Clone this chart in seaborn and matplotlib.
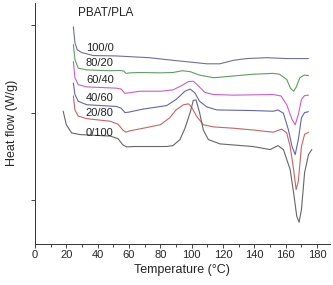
import numpy as np
import pandas as pd
import matplotlib
matplotlib.use("Agg")
import matplotlib.pyplot as plt
from matplotlib.ticker import MultipleLocator
import seaborn as sns

# DSC curves (temperature in deg C, heat flow in arbitrary stacked units)
t_100_0 = [24.5, 25.5, 27, 29.8, 37, 52, 73, 88, 99, 109.6, 118, 126.6, 135, 148, 160.6, 174.5]
h_100_0 = [2.985, 2.80, 2.72, 2.69, 2.655, 2.65, 2.63, 2.60, 2.58, 2.56, 2.56, 2.60, 2.62, 2.63, 2.62, 2.62]

t_80_20 = [24.5, 25.5, 27.6, 33, 48, 54, 56.8, 58, 60.6, 67, 80, 88, 94, 99, 105, 114, 126.6, 139, 152, 156,
           160.6, 163, 165, 166.6, 169, 171.7, 174.5]
h_80_20 = [2.78, 2.61, 2.51, 2.49, 2.48, 2.484, 2.476, 2.45, 2.456, 2.46, 2.456, 2.46, 2.48, 2.47, 2.43, 2.40,
           2.42, 2.44, 2.45, 2.44, 2.38, 2.28, 2.245, 2.29, 2.40, 2.43, 2.425]

t_60_40 = [24.5, 25.5, 27.6, 33, 52, 55, 57.4, 59.6, 67, 80, 88, 93.6, 98, 101, 104, 108.5, 114, 126.6, 152, 157,
           160.6, 164, 166, 168, 170, 172, 174.5]
h_60_40 = [2.586, 2.40, 2.32, 2.295, 2.28, 2.27, 2.22, 2.226, 2.245, 2.245, 2.26, 2.31, 2.356, 2.36, 2.31, 2.23,
           2.207, 2.20, 2.207, 2.19, 2.09, 1.92, 1.86, 1.977, 2.15, 2.195, 2.20]

t_40_60 = [24.5, 25.5, 27.6, 33, 52, 55, 57.4, 59.6, 69, 84, 90, 95.7, 99, 102, 105, 109.6, 116, 139, 152, 155,
           158.5, 161.7, 164, 166, 168, 170, 172, 174.5]
h_40_60 = [2.34, 2.207, 2.13, 2.09, 2.07, 2.05, 2.00, 2.004, 2.04, 2.08, 2.15, 2.245, 2.27, 2.226, 2.13, 2.065,
           2.03, 2.023, 2.015, 2.03, 1.992, 1.80, 1.61, 1.517, 1.69, 1.94, 2.00, 2.01]

t_20_80 = [24.5, 25.5, 27.6, 33, 48, 53, 56, 58, 60.6, 69, 80, 86, 90, 94.7, 98, 100, 103, 107.4, 114, 126.6, 139,
           152, 157.4, 160.6, 162.8, 165, 166.6, 168, 170, 172, 174.5]
h_20_80 = [2.19, 2.03, 1.96, 1.93, 1.90, 1.866, 1.80, 1.774, 1.79, 1.82, 1.86, 1.94, 2.03, 2.09, 2.10, 2.06, 1.96,
           1.86, 1.835, 1.82, 1.80, 1.774, 1.81, 1.766, 1.61, 1.345, 1.115, 1.21, 1.61, 1.75, 1.774]

t_0_100 = [18, 20, 23.4, 28.7, 48, 53, 56, 58.5, 62.8, 84, 88, 92.5, 95.7, 99, 101, 102.8, 105, 107.4, 110.6, 118,
           139, 150, 155, 158.5, 162.8, 165, 167, 168.5, 170, 172, 174.5, 176.6]
h_0_100 = [2.015, 1.86, 1.766, 1.747, 1.73, 1.70, 1.63, 1.605, 1.61, 1.61, 1.62, 1.69, 1.82, 2.00, 2.14, 2.145,
           2.00, 1.80, 1.69, 1.64, 1.61, 1.575, 1.62, 1.575, 1.345, 1.077, 0.81, 0.74, 0.885, 1.31, 1.517, 1.575]

blends = ["100/0", "80/20", "60/40", "40/60", "20/80", "0/100"]
temps = [t_100_0, t_80_20, t_60_40, t_40_60, t_20_80, t_0_100]
flows = [h_100_0, h_80_20, h_60_40, h_40_60, h_20_80, h_0_100]
label_y = [2.74, 2.565, 2.37, 2.17, 1.99, 1.77]
colors = ["#6f6f9c", "#5f9e62", "#cc5ccc", "#6464b4", "#c86464", "#666666"]

df = pd.concat([pd.DataFrame({"T": t, "H": h, "blend": b}) for t, h, b in zip(temps, flows, blends)])

sns.set_theme(style="ticks")
plt.rcParams['font.family'] = ['Liberation Sans', 'DejaVu Sans']

fig = plt.figure(figsize=(3.33, 2.85), dpi=100)
ax = fig.add_axes([0.105, 0.145, 0.885, 0.845])
sns.lineplot(data=df, x="T", y="H", hue="blend", hue_order=blends, palette=colors, sort=False,
             linewidth=0.8, legend=False, ax=ax, estimator=None)

for b, y in zip(blends, label_y):
    ax.text(32.5, y, b, fontsize=8, va="center", ha="left", color="#222222")
ax.text(0.145, 0.958, "PBAT/PLA", transform=ax.transAxes, fontsize=8.5, va="center", color="#222222")

ax.set_xlim(0, 188)
ax.set_ylim(0.494, 3.26)
ax.xaxis.set_major_locator(MultipleLocator(20))
ax.xaxis.set_minor_locator(MultipleLocator(10))
ax.set_yticks([1, 2, 3])
ax.set_yticklabels([])
ax.tick_params(axis="both", which="major", length=3, width=0.6, labelsize=8, pad=1.5)
ax.tick_params(axis="x", which="minor", length=2, width=0.6)
ax.set_xlabel("Temperature (°C)", fontsize=9, labelpad=3)
ax.set_ylabel("Heat flow (W/g)", fontsize=9, labelpad=8)
sns.despine(ax=ax)
for s in ["left", "bottom"]:
    ax.spines[s].set_linewidth(0.7)
    ax.spines[s].set_color("#333333")

fig.savefig("out.png", dpi=100)
